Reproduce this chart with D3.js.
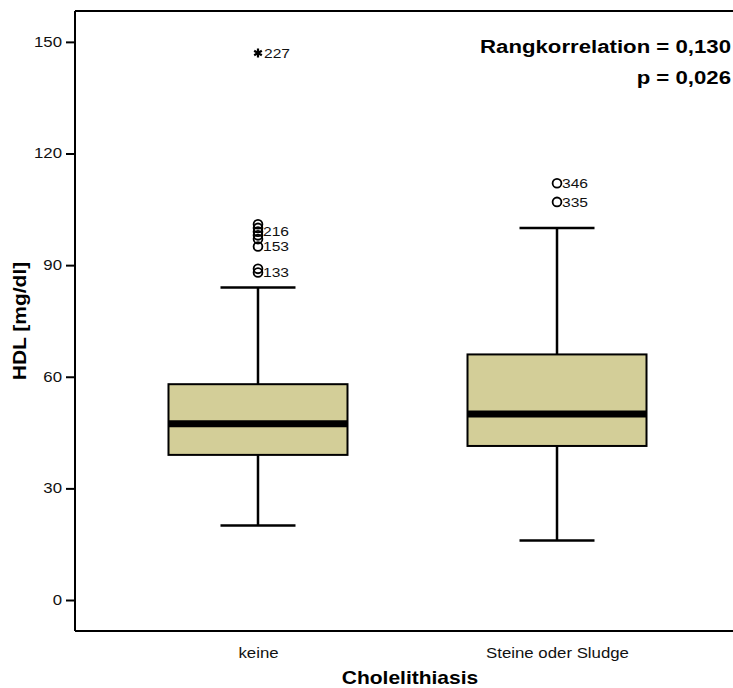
<!DOCTYPE html>
<html>
<head>
<meta charset="utf-8">
<script src="https://cdn.jsdelivr.net/npm/d3@7"></script>
<style>
  html, body { margin: 0; padding: 0; background: #fff; }
  svg { display: block; font-family: "Liberation Sans", Arial, Helvetica, sans-serif; }
</style>
</head>
<body>
<svg id="chart" width="733" height="688"></svg>
<script>
// Categories and box-plot statistics (HDL, mg/dl)
const categories = ["keine", "Steine oder Sludge"];
const whiskerLow = [20, 16];
const q1 = [39, 41.4];
const median = [47.4, 50];
const q3 = [58, 66];
const whiskerHigh = [84, 100];

// Outliers: value, case label (empty = unlabelled), group index
const outlierValues = [101, 100, 99, 98, 97, 95, 89, 88, 112, 107];
const outlierLabels = ["", "", "216", "", "", "153", "", "133", "346", "335"];
const outlierGroup  = [0, 0, 0, 0, 0, 0, 0, 0, 1, 1];

// Extreme values (star markers)
const extremeValues = [147];
const extremeLabels = ["227"];
const extremeGroup = [0];

const yTicks = [0, 30, 60, 90, 120, 150];
const annotation = ["Rangkorrelation = 0,130", "p = 0,026"];

(function draw() {
  const svg = d3.select("#chart");
  const plotLeft = 75, plotTop = 11, plotBottom = 631, plotRight = 740;
  const stretch = 1.2; // wide typeface look

  const y = d3.scaleLinear().domain([-8.33, 158.3]).range([plotBottom, plotTop]);
  const x = d3.scalePoint().domain(categories).range([plotLeft, plotRight]).padding(0.612);

  const boxW = 179, capW = 75;
  const fill = "#d3ce98";

  // text placed at (px, py), widened along its baseline
  function wideText(parent, px, py, str, opts) {
    const t = parent.append("text")
      .attr("transform", `translate(${px},${py}) rotate(${opts.rotate || 0}) scale(${stretch},1)`)
      .attr("text-anchor", opts.anchor || "start")
      .attr("font-size", opts.size || 14)
      .attr("fill", opts.fill || "#111")
      .text(str);
    if (opts.bold) t.attr("font-weight", "bold");
    if (opts.dy) t.attr("dy", opts.dy);
    return t;
  }

  // Frame lines
  svg.append("line").attr("x1", plotLeft).attr("x2", plotRight).attr("y1", plotTop).attr("y2", plotTop)
    .attr("stroke", "#000").attr("stroke-width", 2);
  svg.append("line").attr("x1", plotLeft).attr("x2", plotRight).attr("y1", plotBottom).attr("y2", plotBottom)
    .attr("stroke", "#000").attr("stroke-width", 2);

  // Y axis
  const yAxis = d3.axisLeft(y).tickValues(yTicks).tickSize(9).tickPadding(1.8).tickFormat(d3.format("d"));
  const ya = svg.append("g").attr("transform", `translate(${plotLeft},0)`).call(yAxis);
  ya.select(".domain").attr("stroke-width", 2).attr("d", `M0,${plotTop}V${plotBottom}`);
  ya.selectAll(".tick line").attr("stroke-width", 2);
  ya.selectAll(".tick text").attr("font-size", 14).attr("fill", "#111")
    .attr("font-family", "Liberation Sans, Arial, sans-serif")
    .attr("transform", `scale(${stretch},1)`);

  // X axis labels (no tick marks)
  const xAxis = d3.axisBottom(x).tickSize(0).tickPadding(17);
  const xa = svg.append("g").attr("transform", `translate(0,${plotBottom})`).call(xAxis);
  xa.select(".domain").remove();
  xa.selectAll(".tick text").attr("font-size", 14).attr("fill", "#111")
    .attr("font-family", "Liberation Sans, Arial, sans-serif")
    .attr("transform", `scale(${stretch},1)`);

  // Axis titles
  wideText(svg, 410, 684, "Cholelithiasis", { anchor: "middle", size: 17.5, bold: true, fill: "#000" });
  wideText(svg, 26, 321, "HDL [mg/dl]", { anchor: "middle", size: 17.5, bold: true, fill: "#000", rotate: -90 });

  // Boxes
  const g = svg.append("g");
  categories.forEach((c, i) => {
    const cx = x(c);
    // whisker stems
    g.append("line").attr("x1", cx).attr("x2", cx).attr("y1", y(q3[i])).attr("y2", y(whiskerHigh[i]))
      .attr("stroke", "#000").attr("stroke-width", 2.5);
    g.append("line").attr("x1", cx).attr("x2", cx).attr("y1", y(q1[i])).attr("y2", y(whiskerLow[i]))
      .attr("stroke", "#000").attr("stroke-width", 2.5);
    // caps
    [whiskerHigh[i], whiskerLow[i]].forEach(v => {
      g.append("line").attr("x1", cx - capW / 2).attr("x2", cx + capW / 2).attr("y1", y(v)).attr("y2", y(v))
        .attr("stroke", "#000").attr("stroke-width", 2.5);
    });
    // box
    g.append("rect").attr("x", cx - boxW / 2).attr("width", boxW)
      .attr("y", y(q3[i])).attr("height", y(q1[i]) - y(q3[i]))
      .attr("fill", fill).attr("stroke", "#000").attr("stroke-width", 2);
    // median
    g.append("line").attr("x1", cx - boxW / 2).attr("x2", cx + boxW / 2).attr("y1", y(median[i])).attr("y2", y(median[i]))
      .attr("stroke", "#000").attr("stroke-width", 7);
  });

  // Outlier circles
  outlierValues.forEach((v, i) => {
    const cx = x(categories[outlierGroup[i]]);
    g.append("circle").attr("cx", cx).attr("cy", y(v)).attr("r", 4.4)
      .attr("fill", "none").attr("stroke", "#000").attr("stroke-width", 1.8);
    if (outlierLabels[i]) {
      wideText(g, cx + 5, y(v), outlierLabels[i], { size: 13, dy: "0.36em" });
    }
  });

  // Extreme values (stars)
  const star = d3.symbol().type(d3.symbolAsterisk).size(55);
  extremeValues.forEach((v, i) => {
    const cx = x(categories[extremeGroup[i]]);
    g.append("path").attr("d", star()).attr("transform", `translate(${cx},${y(v)})`)
      .attr("fill", "none").attr("stroke", "#000").attr("stroke-width", 2.2);
    wideText(g, cx + 6, y(v), extremeLabels[i], { size: 13, dy: "0.36em" });
  });

  // Correlation annotation
  annotation.forEach((t, i) => {
    wideText(svg, 731, 53 + i * 31, t, { anchor: "end", size: 18.5, bold: true, fill: "#000" });
  });
})();
</script>
</body>
</html>
